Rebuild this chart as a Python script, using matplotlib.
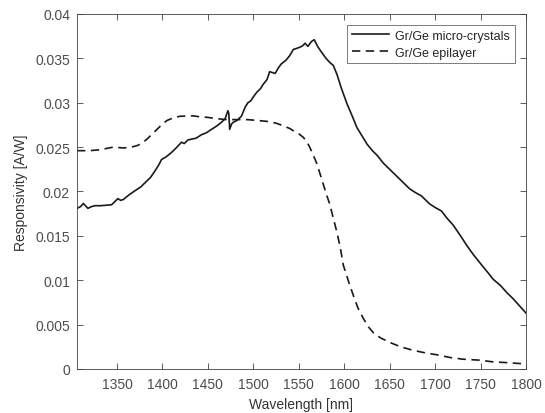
import numpy as np
import matplotlib
matplotlib.use('Agg')
import matplotlib.pyplot as plt

plt.rcParams['font.family'] = ['Liberation Sans', 'DejaVu Sans']

# Gr/Ge micro-crystals (solid)
wl_micro = [1306, 1310, 1313, 1318, 1322, 1326, 1332, 1338, 1344, 1348, 1351, 1354, 1357,
            1363, 1370, 1376, 1381, 1387, 1392, 1396, 1399, 1404, 1410, 1415, 1421, 1424,
            1428, 1432, 1437, 1443, 1448, 1454, 1460, 1465, 1469, 1472, 1473, 1474, 1476,
            1478, 1482, 1487, 1491, 1494, 1497, 1501, 1504, 1508, 1511, 1515, 1518, 1521,
            1524, 1528, 1531, 1536, 1540, 1544, 1547, 1551, 1554, 1557, 1560, 1564, 1567,
            1571, 1575, 1580, 1584, 1588, 1592, 1597, 1603, 1608, 1614, 1620, 1625, 1631,
            1636, 1643, 1650, 1655, 1661, 1667, 1672, 1678, 1685, 1690, 1694, 1700, 1707,
            1713, 1720, 1728, 1735, 1742, 1749, 1757, 1764, 1772, 1779, 1786, 1793, 1800]
resp_micro = [0.0181, 0.0183, 0.01865, 0.0181, 0.0183, 0.0184, 0.0184, 0.01845, 0.0185,
              0.0189, 0.0192, 0.0190, 0.0191, 0.0196, 0.0201, 0.0205, 0.0210, 0.0216,
              0.02235, 0.0230, 0.0236, 0.0239, 0.0244, 0.0249, 0.02555, 0.0254, 0.0258,
              0.0259, 0.0260, 0.0264, 0.0266, 0.0270, 0.0274, 0.0278, 0.0282, 0.0291,
              0.0288, 0.0270, 0.0276, 0.0278, 0.0280, 0.0285, 0.0295, 0.0300, 0.0302,
              0.0308, 0.0312, 0.0316, 0.0321, 0.0326, 0.0335, 0.0334, 0.0333, 0.0340,
              0.0344, 0.0348, 0.0353, 0.0360, 0.0361, 0.03625, 0.0364, 0.0367, 0.03635,
              0.0369, 0.0371, 0.0363, 0.0357, 0.0350, 0.03455, 0.0342, 0.0332, 0.0316,
              0.0299, 0.0287, 0.0272, 0.0262, 0.02535, 0.0246, 0.0241, 0.0232, 0.0225,
              0.0220, 0.0214, 0.0208, 0.0203, 0.0199, 0.0195, 0.0190, 0.0186, 0.0182,
              0.0178, 0.0170, 0.0162, 0.0150, 0.0139, 0.0129, 0.0120, 0.0110, 0.0101,
              0.0094, 0.0086, 0.0079, 0.0071, 0.0063]

# Gr/Ge epilayer (dashed)
wl_epi = [1306, 1320, 1331, 1346, 1357, 1366, 1373, 1378, 1383, 1389, 1394, 1400, 1405,
          1412, 1419, 1427, 1434, 1442, 1449, 1460, 1471, 1482, 1493, 1505, 1515, 1525,
          1533, 1540, 1544, 1550, 1555, 1559, 1562, 1566, 1570, 1574, 1577, 1581, 1584,
          1588, 1592, 1596, 1599, 1605, 1610, 1615, 1621, 1627, 1632, 1640, 1650, 1662,
          1676, 1690, 1702, 1716, 1731, 1748, 1764, 1782, 1800]
resp_epi = [0.0246, 0.0246, 0.0247, 0.0250, 0.0249, 0.0250, 0.0252, 0.0255, 0.0259,
            0.0265, 0.0270, 0.0276, 0.0280, 0.0283, 0.02847, 0.0285, 0.02852, 0.0284,
            0.02836, 0.0282, 0.0281, 0.0281, 0.0281, 0.0280, 0.0279, 0.0277, 0.0274,
            0.0271, 0.02685, 0.0265, 0.0261, 0.0256, 0.0250, 0.0241, 0.0231, 0.0218,
            0.0208, 0.0195, 0.0186, 0.0170, 0.0154, 0.0135, 0.0117, 0.0098, 0.0083,
            0.0069, 0.0057, 0.0047, 0.0041, 0.0035, 0.0030, 0.0025, 0.0021, 0.0018,
            0.0016, 0.0013, 0.0011, 0.0010, 0.0008, 0.0007, 0.00056]

x_ticks = [1350, 1400, 1450, 1500, 1550, 1600, 1650, 1700, 1750, 1800]
y_ticks = [0, 0.005, 0.01, 0.015, 0.02, 0.025, 0.03, 0.035, 0.04]

axis_color = '#404040'

fig = plt.figure(figsize=(5.45, 4.14), dpi=100)
ax = fig.add_axes([0.1413, 0.1063, 0.8238, 0.8575])

ax.plot(wl_micro, resp_micro, color='#1a1a1a', linewidth=1.2, label='Gr/Ge micro-crystals')
ax.plot(wl_epi, resp_epi, color='#1a1a1a', linewidth=1.2, linestyle=(0, (5, 3.3)),
        label='Gr/Ge epilayer')

ax.set_xlim(1306, 1800)
ax.set_ylim(0, 0.04)
ax.set_xticks(x_ticks)
ax.set_yticks(y_ticks)
ax.set_yticklabels(['%g' % v for v in y_ticks])

ax.tick_params(direction='in', length=4, width=0.6, top=True, right=True,
               labelsize=10, colors=axis_color, labelcolor='#4d4d4d')
ax.tick_params(axis='x', pad=6)
ax.tick_params(axis='y', pad=5)
for s in ax.spines.values():
    s.set_color(axis_color)
    s.set_linewidth(0.6)

ax.set_xlabel('Wavelength [nm]', fontsize=10, color='#333333', labelpad=4)
ax.set_ylabel('Responsivity [A/W]', fontsize=10, color='#333333', labelpad=5)

leg = ax.legend(loc='upper right', fontsize=9, frameon=True, fancybox=False,
                borderaxespad=0.9, handlelength=3.0, handletextpad=0.5,
                borderpad=0.35, labelspacing=0.4)
leg.get_frame().set_edgecolor(axis_color)
leg.get_frame().set_linewidth(0.6)
for t in leg.get_texts():
    t.set_color('#262626')

fig.savefig('out.png', dpi=100)
